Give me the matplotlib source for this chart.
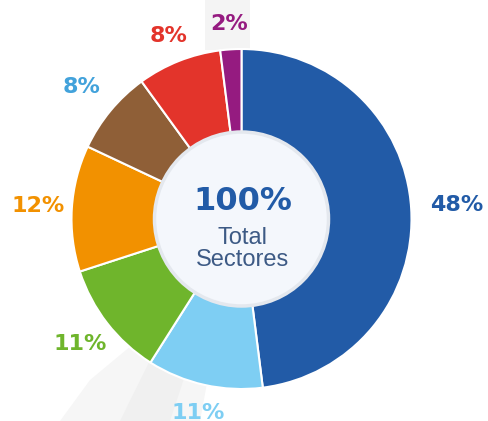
import matplotlib.pyplot as plt
from matplotlib.patches import Circle, Polygon
import numpy as np

# data
sector_values = [48, 11, 11, 12, 8, 8, 2]
sector_labels = ["48%", "11%", "11%", "12%", "8%", "8%", "2%"]
wedge_colors = ["#225BA7", "#7ECEF3", "#6FB52C", "#F29100", "#8F5F37", "#E3342B", "#951B80"]
label_colors = ["#225BA7", "#7ECEF3", "#6FB52C", "#F29100", "#42A2DB", "#E3342B", "#951B80"]
center_big = "100%"
center_small = "Total\nSectores"

W, H = 488, 421
fig = plt.figure(figsize=(W / 100, H / 100), dpi=100)
ax = fig.add_axes([0, 0, 1, 1])
fig.patch.set_facecolor("white")

# faint grey background smudges (pixel coords from top)
def px(pts):
    return [[x, H - y] for x, y in pts]

ax.add_patch(Polygon(px([[60, 421], [200, 421], [215, 340], [150, 330], [90, 380]]), closed=True,
                     facecolor="#f6f6f6", edgecolor="none", zorder=0))
ax.add_patch(Polygon(px([[120, 421], [170, 421], [195, 345], [160, 340]]), closed=True,
                     facecolor="#f0f0f0", edgecolor="none", zorder=0))
ax.add_patch(Polygon(px([[205, 0], [250, 0], [250, 50], [205, 50]]), closed=True,
                     facecolor="#f4f4f4", edgecolor="none", zorder=0))

cx, cy = 241.5, H - 219
r_out = 170
r_in = 87

wedges, _ = ax.pie(sector_values, colors=wedge_colors, startangle=90, counterclock=False,
                   center=(cx, cy), radius=r_out, frame=True,
                   wedgeprops=dict(width=r_out - r_in + 2, edgecolor="white", linewidth=1.5))
ax.set_xlim(0, W)
ax.set_ylim(0, H)
ax.set_aspect("equal")
ax.axis("off")

# labels around the ring
dists = [1.27, 1.17, 1.20, 1.20, 1.22, 1.16, 1.15]
for w, lab, col, d in zip(wedges, sector_labels, label_colors, dists):
    ang = np.deg2rad((w.theta1 + w.theta2) / 2)
    ax.text(cx + d * r_out * np.cos(ang), cy + d * r_out * np.sin(ang), lab,
            color=col, fontsize=16, fontweight="bold", family="DejaVu Sans",
            ha="center", va="center")

# centre disc
ax.add_patch(Circle((cx, cy), r_in, facecolor="#F4F7FC", edgecolor="#E4E8EE", linewidth=2.5, zorder=5))
ax.text(cx + 1, H - 202, center_big, color="#225BA7", fontsize=23, fontweight="bold",
        family="DejaVu Sans", ha="center", va="center", zorder=6)
ax.text(cx + 1, H - 249, center_small, color="#3D5A85", fontsize=17, linespacing=0.95,
        family="Liberation Sans", ha="center", va="center", zorder=6)

fig.savefig("out.png", dpi=100)
